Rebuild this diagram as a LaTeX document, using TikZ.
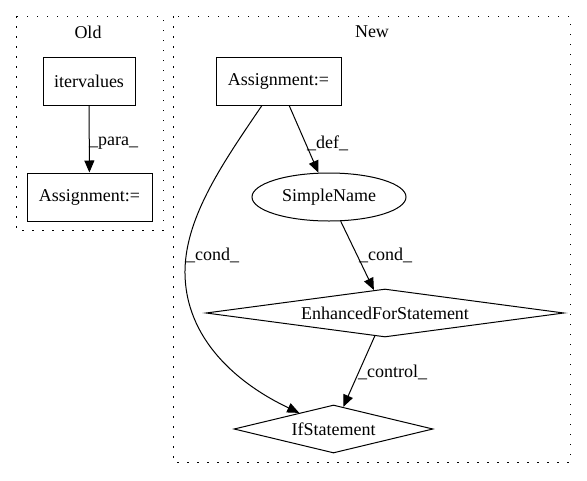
\documentclass[tikz,border=0pt]{standalone}
\usepackage{fontspec}
\setmainfont{Liberation Serif}
\usetikzlibrary{shapes.geometric,arrows.meta}
\begin{document}
\begin{tikzpicture}[x=1pt,y=-1pt,
  every node/.style={font=\fontsize{18}{20}\selectfont, inner sep=0pt},
  box/.style={draw, line width=1pt, rectangle, minimum height=48pt},
  ell/.style={draw, line width=1pt, ellipse, minimum width=154pt, minimum height=48pt},
  dia/.style={draw, line width=1pt, diamond, minimum height=48pt},
  cluster/.style={draw, line width=1pt, dash pattern=on 1.5pt off 8.5pt},
  edge/.style={draw, line width=1pt, -{Triangle[length=12pt,width=10pt]}},
  elab/.style={anchor=west}]
\useasboundingbox (0,0) rectangle (587,480);
\draw[cluster] (16,16) rectangle (163,230);
\draw[cluster] (173,16) rectangle (570,462);
\node (told) at (88,32) {Old};
\node (tnew) at (372,32) {New};
\node[box, minimum width=92pt] (iter) at (89,81) {itervalues};
\node[box, minimum width=125pt] (aold) at (89.5,197) {Assignment:=};
\node[box, minimum width=125pt] (anew) at (278.5,81) {Assignment:=};
\node[ell] (sn) at (329,197) {SimpleName};
\node[dia, aspect=7.46, minimum width=358pt] (efs) at (385,313) {EnhancedForStatement};
\node[dia, aspect=4.15, minimum width=199pt] (ifs) at (333.5,429) {IfStatement};
\coordinate (mid) at (185,270);
\draw[edge] (iter) -- (aold);
\node[elab] (lpara) at (89,143) {\_para\_};
\draw[edge] (anew) -- (sn);
\node[elab] (ldef) at (307,143) {\_def\_};
\draw[edge] (sn) -- (efs);
\node[elab] (lcond1) at (359,255) {\_cond\_};
\draw[edge] (efs) -- (ifs);
\node[elab] (lcontrol) at (358,372) {\_control\_};
\draw[edge] (anew) .. controls (225,160) and (186,215) .. (mid) .. controls (184,340) and (240,385) .. (ifs);
\node[elab] (lcond2) at (186,255) {\_cond\_};
\end{tikzpicture}
\end{document}
